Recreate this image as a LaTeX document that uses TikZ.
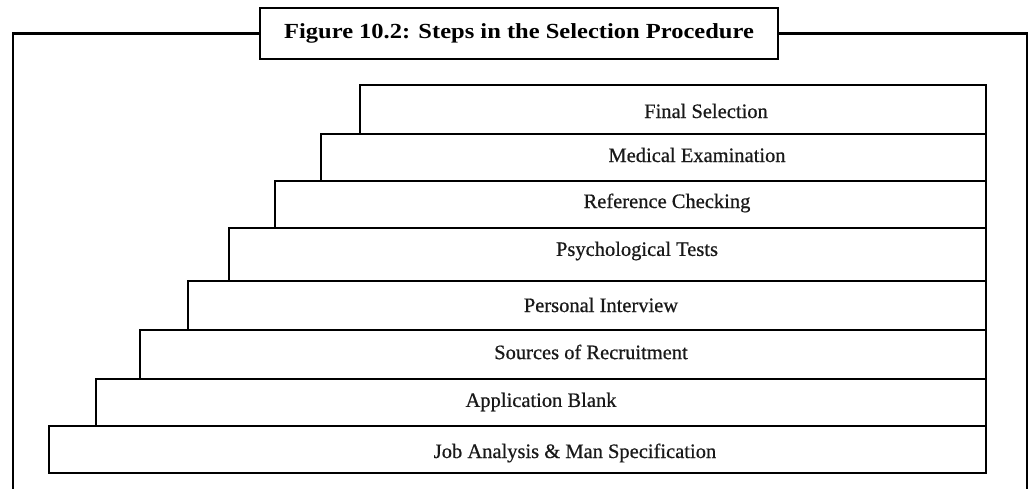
\documentclass[tikz,border=0pt]{standalone}
\usepackage{fontspec}
\setmainfont{Liberation Serif}
\newfontfamily\captionface[FakeStretch=1.14]{Liberation Serif}
\newfontfamily\stepface[FakeBold=0.6]{Liberation Serif}
\begin{document}
\begin{tikzpicture}[x=1pt,y=-1pt,
  framebox/.style={draw=black,line width=2.6pt,fill=white,inner sep=0pt,outer sep=0pt},
  stepbox/.style={draw=black,line width=1.5pt,inner sep=0pt,outer sep=0pt,anchor=north west},
  steptext/.style={inner sep=0pt,font=\stepface\fontsize{20.5}{22}\selectfont,text=black!90},
  titletext/.style={inner sep=0pt,font=\captionface\fontsize{21.5}{23}\bfseries\selectfont}]
\useasboundingbox (0,0) rectangle (1030,489);
\fill[white] (0,0) rectangle (1030,489);

% outer frame with the caption box on its top edge
\node[framebox,minimum width=518pt,minimum height=51pt] (title) at (519,33.5) {};
\node[titletext] (titlelbl) at (title.center) {Figure 10.2: Steps in the Selection Procedure};
\coordinate (fl) at (13,500);
\coordinate (fr) at (1027,500);
\draw[line width=2.6pt] (title.west) -| (fl);
\draw[line width=2.6pt] (title.east) -| (fr);

% staircase of selection steps, top step first
\node[stepbox,minimum width=626pt,minimum height=49pt] (s1) at (360,85) {};
\node[stepbox,minimum width=665pt,minimum height=47pt] (s2) at (321,134) {};
\node[stepbox,minimum width=711pt,minimum height=47pt] (s3) at (275,181) {};
\node[stepbox,minimum width=757pt,minimum height=53pt] (s4) at (229,228) {};
\node[stepbox,minimum width=798pt,minimum height=49pt] (s5) at (188,281) {};
\node[stepbox,minimum width=846pt,minimum height=49pt] (s6) at (140,330) {};
\node[stepbox,minimum width=890pt,minimum height=47pt] (s7) at (96,379) {};
\node[stepbox,minimum width=937pt,minimum height=47pt] (s8) at (49,426) {};

\node[steptext] (t1) at (706,111) {Final Selection};
\node[steptext] (t2) at (697,155) {Medical Examination};
\node[steptext] (t3) at (667,203) {Reference Checking};
\node[steptext] (t4) at (637,251) {Psychological Tests};
\node[steptext] (t5) at (601,305) {Personal Interview};
\node[steptext] (t6) at (591,352) {Sources of Recruitment};
\node[steptext] (t7) at (541,402) {Application Blank};
\node[steptext] (t8) at (575,453) {Job Analysis \& Man Specification};
\end{tikzpicture}
\end{document}
